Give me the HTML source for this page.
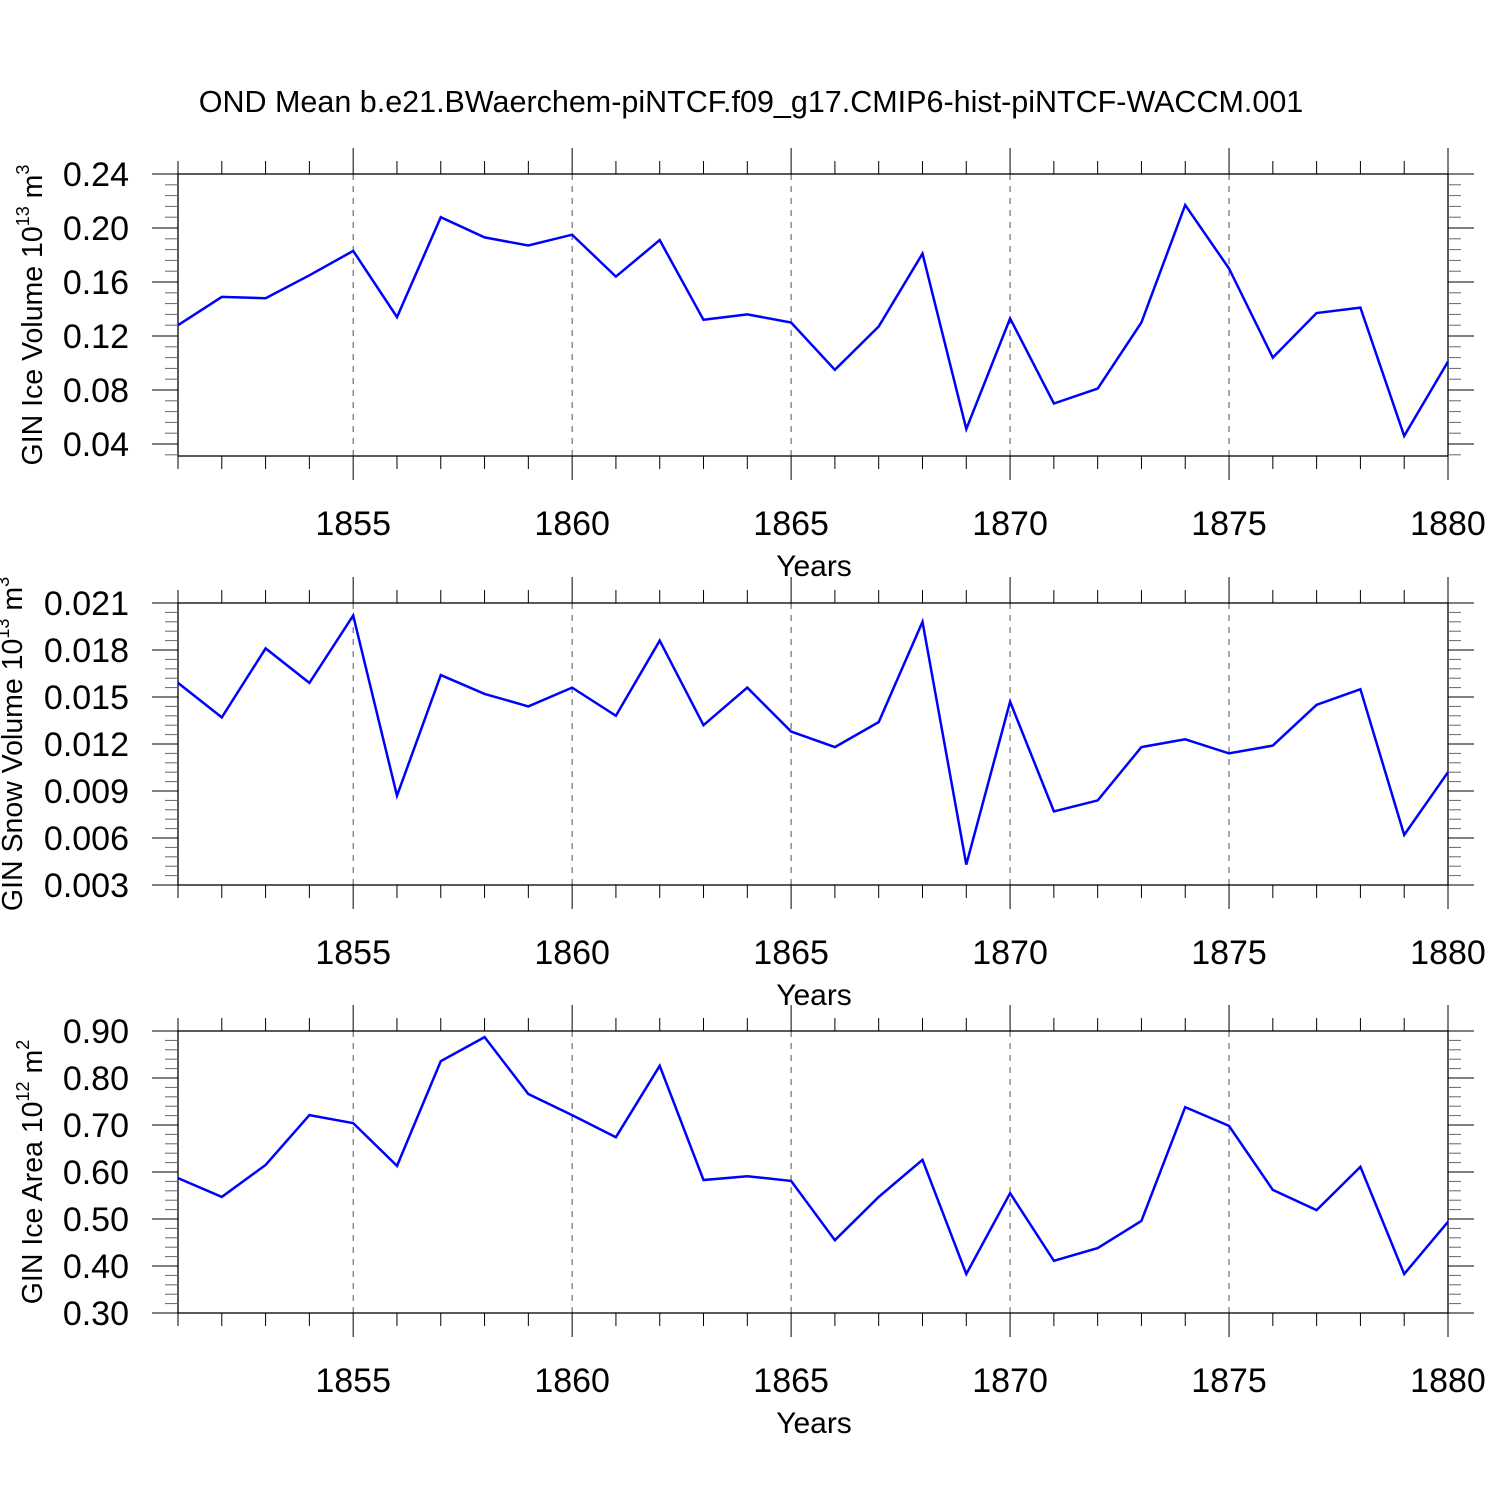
<!DOCTYPE html>
<html><head><meta charset="utf-8"><style>
body{margin:0;background:#fff}
svg text{font-family:"Liberation Sans",Arial,sans-serif;fill:#000}
</style></head><body>
<svg id="c" width="1500" height="1500" viewBox="0 0 1500 1500">
<text x="751" y="112" font-size="30.5" text-anchor="middle">OND Mean b.e21.BWaerchem-piNTCF.f09_g17.CMIP6-hist-piNTCF-WACCM.001</text>
</svg>
<script>
const years=[1851,1852,1853,1854,1855,1856,1857,1858,1859,1860,1861,1862,1863,1864,1865,1866,1867,1868,1869,1870,1871,1872,1873,1874,1875,1876,1877,1878,1879,1880];
const iceVolume=[0.128,0.149,0.148,0.165,0.183,0.134,0.208,0.193,0.187,0.195,0.164,0.191,0.132,0.136,0.130,0.095,0.127,0.181,0.051,0.133,0.070,0.081,0.130,0.217,0.170,0.104,0.137,0.141,0.046,0.101];
const snowVolume=[0.0159,0.0137,0.0181,0.0159,0.0202,0.0087,0.0164,0.0152,0.0144,0.0156,0.0138,0.0186,0.0132,0.0156,0.0128,0.0118,0.0134,0.0198,0.0043,0.0147,0.0077,0.0084,0.0118,0.0123,0.0114,0.0119,0.0145,0.0155,0.0062,0.0102];
const iceArea=[0.587,0.547,0.615,0.721,0.704,0.613,0.836,0.887,0.766,0.721,0.674,0.826,0.583,0.591,0.581,0.455,0.547,0.626,0.383,0.555,0.411,0.438,0.496,0.738,0.698,0.562,0.519,0.611,0.383,0.494];
const xTicks=[1855,1860,1865,1870,1875,1880];
const iceVolTicks=["0.04","0.08","0.12","0.16","0.20","0.24"];
const snowTicks=["0.003","0.006","0.009","0.012","0.015","0.018","0.021"];
const areaTicks=["0.30","0.40","0.50","0.60","0.70","0.80","0.90"];

const svg=document.getElementById('c');
const NS='http://www.w3.org/2000/svg';
function mk(t,a,p){const e=document.createElementNS(NS,t);for(const k in a)e.setAttribute(k,a[k]);(p||svg).appendChild(e);return e;}
const X0=178,X1=1448;
const xs=y=>X0+(y-1851)*(X1-X0)/29;

const panels=[
 {top:174,tickSpan:270,data:iceVolume,ticks:iceVolTicks,minor:0.008,lab:'ice-volume',yl:'GIN Ice Volume 10',sup:'13',unit:' m',usup:'3',ylx:42},
 {top:603,tickSpan:282,data:snowVolume,ticks:snowTicks,minor:0.0006,lab:'snow-volume',yl:'GIN Snow Volume 10',sup:'13',unit:' m',usup:'3',ylx:22},
 {top:1031,tickSpan:282,data:iceArea,ticks:areaTicks,minor:0.02,lab:'ice-area',yl:'GIN Ice Area 10',sup:'12',unit:' m',usup:'2',ylx:42}
];
panels.forEach((p,pi)=>{
 const g=mk('g',{});
 
 
 const fb=p.top+282;
 const tv=p.ticks.map(Number);
 const vMax=tv[tv.length-1];
 const scale=p.tickSpan/(vMax-tv[0]);
 const ys=v=>p.top+(vMax-v)*scale;
 xTicks.forEach(t=>{if(t<1880){const l=mk('line',{x1:xs(t),x2:xs(t),y1:p.top,y2:fb,stroke:'#555','stroke-width':1,'stroke-dasharray':'6,6'},g);}});
 const fr=mk('rect',{x:X0,y:p.top,width:X1-X0,height:fb-p.top,fill:'none',stroke:'#000','stroke-width':1.3},g);
 
 years.forEach(yr=>{const maj=xTicks.includes(yr);const x=xs(yr);
  mk('line',{x1:x,x2:x,y1:p.top-(maj?26:13),y2:p.top,stroke:'#000','stroke-width':1},g);
  mk('line',{x1:x,x2:x,y1:fb,y2:fb+(maj?24:13),stroke:'#000','stroke-width':1},g);});
 xTicks.forEach(t=>{const tx=mk('text',{x:xs(t),y:fb+79,'font-size':34,'text-anchor':'middle'},g);tx.textContent=t;
  });
 const xt=mk('text',{x:814,y:fb+120,'font-size':30,'text-anchor':'middle'},g);xt.textContent='Years';
 
 for(let i=-3;i<=200;i++){const v=vMax-i*p.minor;const y=ys(v);if(y<p.top-0.5)continue;if(y>fb+0.5)break;
  const maj=i%5==0;const L=maj?26:13;
  mk('line',{x1:X0-L,x2:X0,y1:y,y2:y,stroke:maj?'#000':'#666','stroke-width':1},g);
  mk('line',{x1:X1,x2:X1+L,y1:y,y2:y,stroke:maj?'#000':'#666','stroke-width':1},g);}
 p.ticks.forEach((s,i)=>{const tx=mk('text',{x:129,y:ys(tv[i])+12,'font-size':34,'text-anchor':'end'},g);tx.textContent=s;
  });
 const cy=p.top+141;
 const yt=mk('text',{x:0,y:0,'font-size':28.5,'text-anchor':'middle',transform:`translate(${p.ylx},${cy}) rotate(-90)`},g);
 
 yt.innerHTML=`${p.yl}<tspan dy="-13" font-size="18">${p.sup}</tspan><tspan dy="13">${p.unit}</tspan><tspan dy="-13" font-size="18">${p.usup}</tspan>`;
 const pts=p.data.map((v,i)=>xs(years[i]).toFixed(1)+','+ys(v).toFixed(1)).join(' ');
 const pl=mk('polyline',{points:pts,fill:'none',stroke:'#0000ff','stroke-width':2.5,'stroke-linejoin':'miter'},g);
 
});
</script>
</body></html>
